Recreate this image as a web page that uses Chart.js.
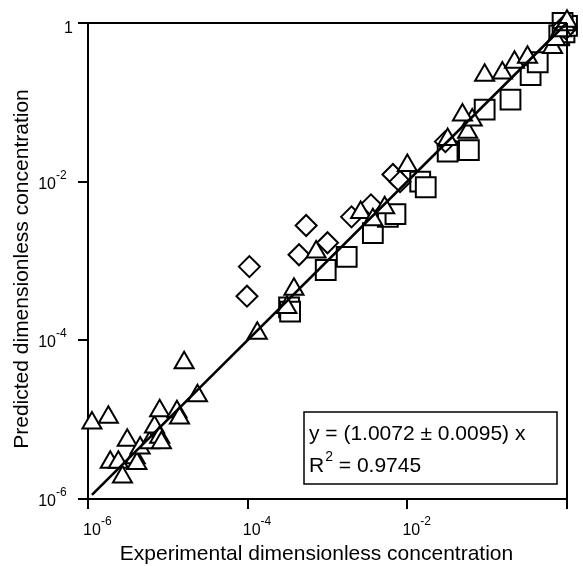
<!DOCTYPE html>
<html><head><meta charset="utf-8">
<script src="https://cdn.jsdelivr.net/npm/chart.js@4.4.0/dist/chart.umd.min.js"></script>
<style>html,body{margin:0;padding:0;background:#fff}#wrap{width:583px;height:566px}</style>
</head><body><div id="wrap"><canvas id="c" width="583" height="566"></canvas></div>
<script>
// Triangles series
const triX = [1.12e-6,1.8e-6,1.9e-6,2.4e-6,2.7e-6,3.1e-6,3.9e-6,4.1e-6,4.5e-6,5.9e-6,6.8e-6,7.9e-6,7.9e-6,8.3e-6,1.3e-5,1.4e-5,1.6e-5,2.35e-5,1.32e-4,3.1e-4,3.8e-4,7.2e-4,2.6e-3,3.7e-3,5.2e-3,1.0e-2,0.032,0.057,0.065,0.049,0.093,0.155,0.22,0.32,0.66,0.72,0.85,0.95,1.0];
const triY = [9.1e-6,1.07e-5,2.9e-6,2.9e-6,1.9e-6,5.5e-6,3.3e-6,2.8e-6,4.4e-6,5.1e-6,8.1e-6,6.0e-6,1.3e-5,5.1e-6,1.26e-5,1.05e-5,5.2e-5,2.0e-5,1.23e-4,2.6e-4,4.4e-4,1.3e-3,4.1e-3,3.3e-3,4.7e-3,1.6e-2,0.034,0.042,0.060,0.069,0.22,0.235,0.32,0.37,0.49,0.62,0.80,0.95,1.05];
// Squares series
const sqX = [3.3e-4,3.4e-4,9.5e-4,1.74e-3,3.7e-3,5.7e-3,7.1e-3,0.0145,0.017,0.032,0.059,0.093,0.196,0.35,0.43,0.8,0.93,1.0,0.88];
const sqY = [2.6e-4,2.3e-4,7.7e-4,1.13e-3,2.25e-3,3.6e-3,3.9e-3,0.010,0.0085,0.024,0.025,0.081,0.108,0.22,0.32,0.7,0.76,0.92,1.0];
// Diamonds series
const diaX = [9.8e-5,1.05e-4,4.4e-4,5.4e-4,1.0e-3,2.0e-3,3.5e-3,6.6e-3,8.1e-3,0.030,0.9,0.97];
const diaY = [3.6e-4,8.5e-4,1.2e-3,2.8e-3,1.7e-3,3.6e-3,5.1e-3,0.0123,0.010,0.032,0.9,0.85];
// Fitted line end points (y = 1.0072 x)
const fitX = [1.12e-6, 1.0];
const fitY = [1.128e-6, 1.0072];
// Ticks
const tickVals = [1e-6, 1e-4, 1e-2, 1];
const xTickBase = ['10','10','10',''];
const xTickExp = ['-6','-4','-2',''];
const yTickBase = ['10','10','10','1'];
const yTickExp = ['-6','-4','-2',''];
const xTitle = 'Experimental dimensionless concentration';
const yTitle = 'Predicted dimensionless concentration';
const fitLine1 = 'y = (1.0072 \u00B1 0.0095) x';
const fitLine2a = 'R', fitLine2sup = '2', fitLine2b = ' = 0.9745';

const FONT = "'Liberation Sans', Arial, Helvetica, sans-serif";
const pts = (xs, ys) => xs.map((x, i) => ({x, y: ys[i]}));

const textPlugin = {
  id: 'textPlugin',
  afterDraw(chart) {
    const ctx = chart.ctx, ca = chart.chartArea;
    const xs = chart.scales.x, ys = chart.scales.y;
    ctx.save();
    // top & right frame
    ctx.strokeStyle = '#000'; ctx.lineWidth = 2;
    ctx.beginPath();
    ctx.moveTo(ca.left, ca.top); ctx.lineTo(ca.right, ca.top);
    ctx.moveTo(ca.right, ca.top); ctx.lineTo(ca.right, ca.bottom);
    ctx.stroke();
    ctx.fillStyle = '#000';
    // x tick labels
    tickVals.forEach((v, i) => {
      if (!xTickBase[i]) return;
      const px = xs.getPixelForValue(v);
      ctx.font = '16px ' + FONT; ctx.textBaseline = 'alphabetic'; ctx.textAlign = 'left';
      const w = ctx.measureText(xTickBase[i]).width;
      const x0 = px + 4 - w / 2;
      ctx.fillText(xTickBase[i], x0, ca.bottom + 36);
      ctx.font = '12px ' + FONT;
      ctx.fillText(xTickExp[i], x0 + w, ca.bottom + 26);
    });
    // y tick labels
    tickVals.forEach((v, i) => {
      const py = ys.getPixelForValue(v);
      ctx.textBaseline = 'alphabetic';
      if (yTickExp[i]) {
        ctx.font = '16px ' + FONT; ctx.textAlign = 'right';
        ctx.fillText(yTickBase[i], 56, py + 7);
        ctx.font = '12px ' + FONT; ctx.textAlign = 'left';
        ctx.fillText(yTickExp[i], 56, py - 3);
      } else {
        ctx.font = '16px ' + FONT; ctx.textAlign = 'right';
        ctx.fillText(yTickBase[i], 73, py + 10);
      }
    });
    // axis titles
    ctx.font = '21px ' + FONT; ctx.textAlign = 'center'; ctx.textBaseline = 'middle';
    ctx.fillText(xTitle, (ca.left + ca.right) / 2 - 11, 554);
    ctx.save();
    ctx.translate(22, (ca.top + ca.bottom) / 2 + 8);
    ctx.rotate(-Math.PI / 2);
    ctx.fillText(yTitle, 0, 0);
    ctx.restore();
    // fit box
    const bx = ca.right - 263, by = ca.bottom - 87, bw = 253, bh = 72;
    ctx.fillStyle = '#fff'; ctx.fillRect(bx, by, bw, bh);
    ctx.strokeStyle = '#000'; ctx.lineWidth = 1.5;
    ctx.strokeRect(bx, by, bw, bh);
    ctx.fillStyle = '#000';
    ctx.font = '21px ' + FONT; ctx.textAlign = 'left'; ctx.textBaseline = 'alphabetic';
    ctx.fillText(fitLine1, bx + 5, by + 28);
    ctx.fillText(fitLine2a, bx + 5, by + 60);
    const rw = ctx.measureText(fitLine2a).width;
    ctx.font = '14px ' + FONT;
    ctx.fillText(fitLine2sup, bx + 5 + rw + 1, by + 49);
    const sw = ctx.measureText(fitLine2sup).width;
    ctx.font = '21px ' + FONT;
    ctx.fillText(fitLine2b, bx + 5 + rw + sw + 1, by + 60);
    ctx.restore();
  }
};

const axisCommon = {
  type: 'logarithmic', min: 1e-6, max: 1,
  afterBuildTicks: s => { s.ticks = tickVals.map(v => ({value: v})); },
  ticks: {display: false},
  grid: {drawOnChartArea: false, drawTicks: true, tickLength: 10, color: '#000', lineWidth: 2},
  border: {display: true, color: '#000', width: 2}
};

new Chart(document.getElementById('c'), {
  type: 'scatter',
  data: {
    datasets: [
      {type: 'line', data: pts(fitX, fitY), borderColor: '#000', borderWidth: 2.6, pointRadius: 0, showLine: true, fill: false, order: 0, clip: false},
      {data: pts(triX, triY), pointStyle: 'triangle', pointRadius: 11, borderWidth: 2, borderColor: '#000', backgroundColor: '#fff', order: 1, clip: false},
      {data: pts(diaX, diaY), pointStyle: 'rectRot', pointRadius: 10.5, borderWidth: 2, borderColor: '#000', backgroundColor: '#fff', order: 2, clip: false},
      {data: pts(sqX, sqY), pointStyle: 'rect', pointRadius: 14, borderWidth: 2, borderColor: '#000', backgroundColor: '#fff', order: 3, clip: false}
    ]
  },
  options: {
    responsive: false, animation: false, devicePixelRatio: 1,
    layout: {padding: {top: 23, right: 13, left: 0, bottom: 0}},
    plugins: {legend: {display: false}, tooltip: {enabled: false}},
    scales: {
      x: Object.assign({}, axisCommon, {position: 'bottom', afterFit: s => { s.height = 67; }}),
      y: Object.assign({}, axisCommon, {position: 'left', afterFit: s => { s.width = 88; }})
    }
  },
  plugins: [textPlugin]
});
</script></body></html>
